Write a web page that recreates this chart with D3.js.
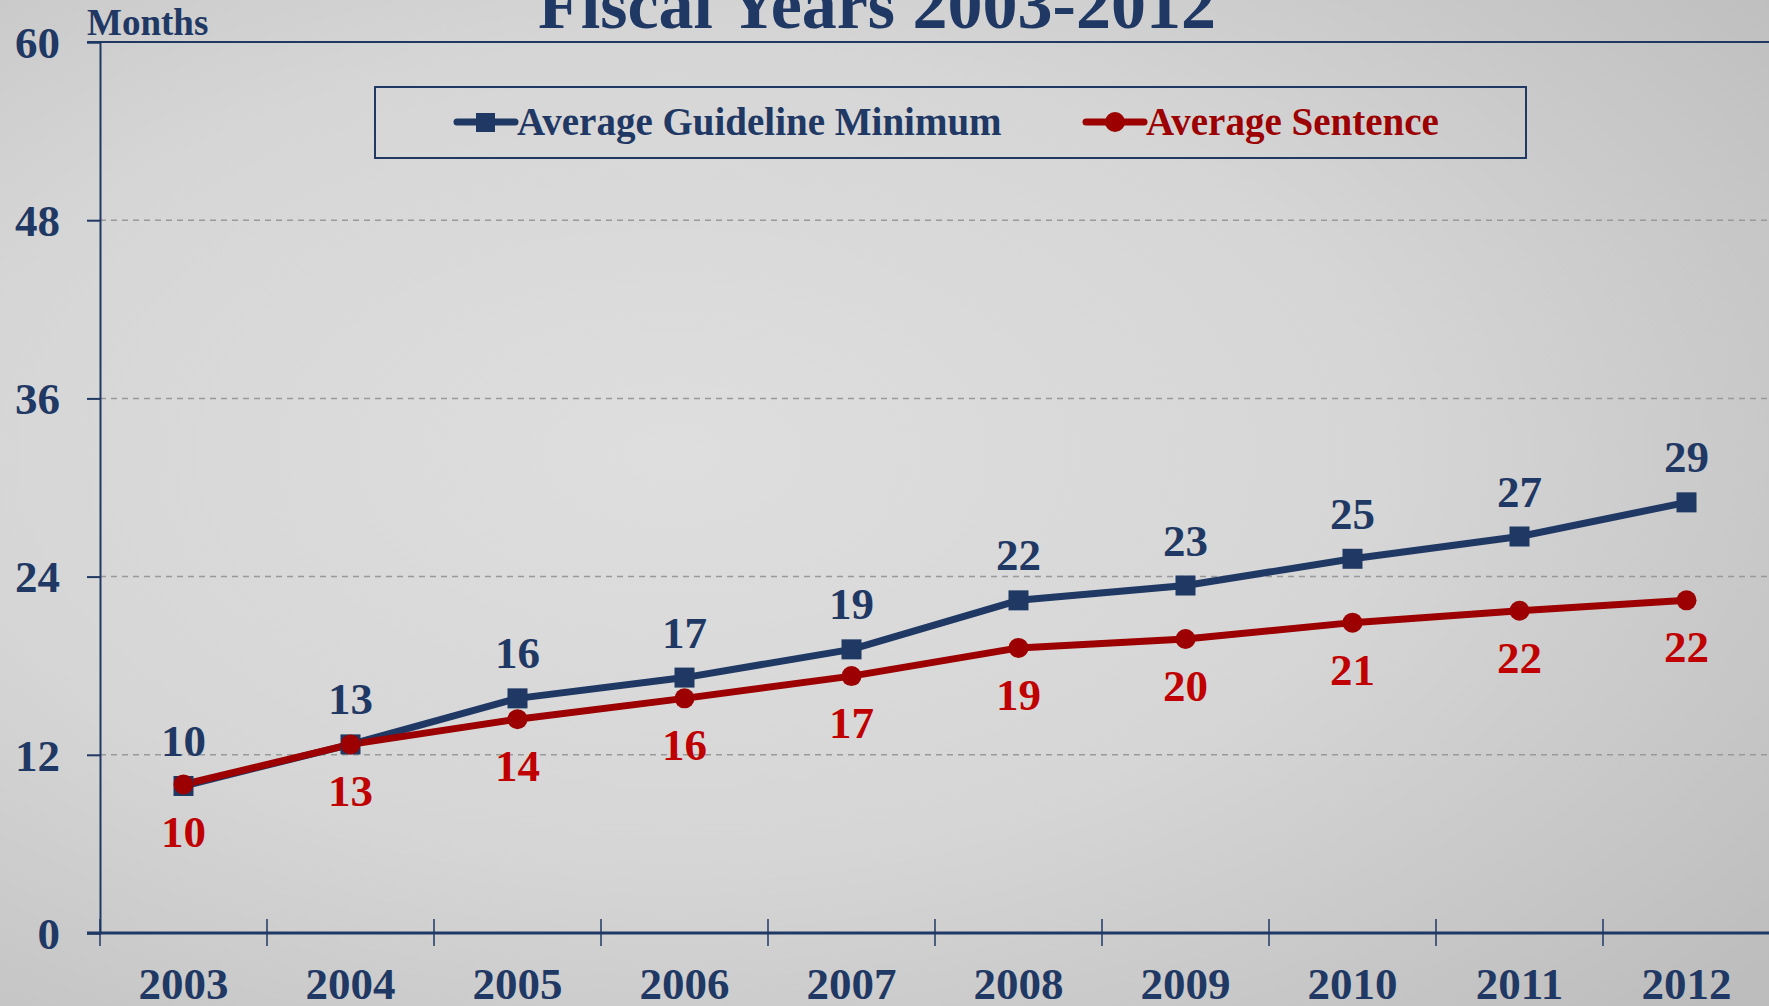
<!DOCTYPE html>
<html><head><meta charset="utf-8">
<script src="https://cdn.jsdelivr.net/npm/d3@7/dist/d3.min.js"></script>
<style>html,body{margin:0;padding:0;overflow:hidden;background:#d6d6d6}</style>
</head><body>
<script>
const years = ["2003","2004","2005","2006","2007","2008","2009","2010","2011","2012"];
const guidelineMin = [9.9,12.7,15.8,17.2,19.1,22.4,23.4,25.2,26.7,29.0];
const avgSentence = [10.0,12.7,14.4,15.8,17.3,19.2,19.8,20.9,21.7,22.4];
const yTicks = [0,12,24,36,48,60];
const seriesNames = ["Average Guideline Minimum","Average Sentence"];
const titleText = "Fiscal Years 2003-2012";
const yTitle = "Months";

const W = 1769, H = 1006;
const NAVY = "#1f3864", RED = "#9c0000", RED_LBL = "#c00000";
const FONT = "'Liberation Serif', 'DejaVu Serif', serif";

const svg = d3.select("body").append("svg").attr("width", W).attr("height", H);
const defs = svg.append("defs");
const g = defs.append("radialGradient").attr("id","bg").attr("cx","38%").attr("cy","45%").attr("r","80%");
g.append("stop").attr("offset","0%").attr("stop-color","#dedede");
g.append("stop").attr("offset","50%").attr("stop-color","#d6d6d6");
g.append("stop").attr("offset","100%").attr("stop-color","#bdbdbd");
svg.append("rect").attr("width",W).attr("height",H).attr("fill","url(#bg)");

const x = d3.scaleBand().domain(years).range([100, 1770]).padding(0);
const y = d3.scaleLinear().domain([0,60]).range([933, 42]);
const cx = d => x(d) + x.bandwidth()/2;

// gridlines
svg.append("g").selectAll("line").data(yTicks.filter(t => t>0 && t<60)).join("line")
  .attr("x1",100).attr("x2",W).attr("y1",d=>y(d)).attr("y2",d=>y(d))
  .attr("stroke","#999").attr("stroke-width",1.5).attr("stroke-dasharray","6,5");

// top border line
svg.append("line").attr("x1",87).attr("x2",W).attr("y1",y(60)).attr("y2",y(60))
  .attr("stroke",NAVY).attr("stroke-width",2);

// y axis
const yAxis = d3.axisLeft(y).tickValues(yTicks).tickSize(13).tickPadding(27).tickFormat(d3.format("d"));
const ya = svg.append("g").attr("transform","translate(100,0)").call(yAxis);
ya.select(".domain").attr("stroke",NAVY).attr("stroke-width",2);
ya.selectAll(".tick line").attr("stroke",NAVY).attr("stroke-width",2);
ya.selectAll(".tick text").attr("fill",NAVY).attr("font-family",FONT).attr("font-weight","bold")
  .attr("font-size",45).attr("dy","0.34em");

// x axis
const xa = svg.append("g").attr("transform","translate(0,933)");
xa.append("line").attr("x1",87).attr("x2",W).attr("y1",0).attr("y2",0).attr("stroke",NAVY).attr("stroke-width",3);
xa.selectAll("line.tk").data(years).join("line").attr("class","tk")
  .attr("x1",d=>x(d)).attr("x2",d=>x(d)).attr("y1",-14).attr("y2",13)
  .attr("stroke",NAVY).attr("stroke-width",1.5);
xa.selectAll("text").data(years).join("text")
  .attr("x",cx).attr("y",66).attr("text-anchor","middle")
  .attr("fill",NAVY).attr("font-family",FONT).attr("font-weight","bold").attr("font-size",45)
  .text(d=>d);

// y title
svg.append("text").attr("x",87).attr("y",35).attr("fill",NAVY).attr("font-family",FONT)
  .attr("font-weight","bold").attr("font-size",37).text(yTitle);

// chart title
svg.append("text").attr("x",877).attr("y",28).attr("text-anchor","middle").attr("fill",NAVY)
  .attr("font-family",FONT).attr("font-weight","bold").attr("font-size",70).text(titleText);

// lines
const line = d3.line().x((d,i)=>cx(years[i])).y(d=>y(d));
svg.append("path").datum(guidelineMin).attr("d",line).attr("fill","none")
  .attr("stroke",NAVY).attr("stroke-width",7).attr("stroke-linejoin","round");
svg.append("path").datum(avgSentence).attr("d",line).attr("fill","none")
  .attr("stroke",RED).attr("stroke-width",7).attr("stroke-linejoin","round");

// markers
svg.append("g").selectAll("rect").data(guidelineMin).join("rect")
  .attr("x",(d,i)=>cx(years[i])-10).attr("y",d=>y(d)-10).attr("width",20).attr("height",20).attr("fill",NAVY);
svg.append("g").selectAll("circle").data(avgSentence).join("circle")
  .attr("cx",(d,i)=>cx(years[i])).attr("cy",d=>y(d)).attr("r",10).attr("fill",RED);

// data labels
svg.append("g").selectAll("text").data(guidelineMin).join("text")
  .attr("x",(d,i)=>cx(years[i])).attr("y",d=>y(d)-30).attr("text-anchor","middle")
  .attr("fill",NAVY).attr("font-family",FONT).attr("font-weight","bold").attr("font-size",45)
  .text(d=>Math.round(d));
svg.append("g").selectAll("text").data(avgSentence).join("text")
  .attr("x",(d,i)=>cx(years[i])).attr("y",d=>y(d)+62).attr("text-anchor","middle")
  .attr("fill",RED_LBL).attr("font-family",FONT).attr("font-weight","bold").attr("font-size",45)
  .text(d=>Math.round(d));

// legend
const lg = svg.append("g");
lg.append("rect").attr("x",375).attr("y",87).attr("width",1151).attr("height",71)
  .attr("fill","none").attr("stroke",NAVY).attr("stroke-width",2);
const items = [
  {name:seriesNames[0], color:NAVY, text:NAVY, x0:457, shape:"square"},
  {name:seriesNames[1], color:RED, text:RED, x0:1086, shape:"circle"}
];
items.forEach(it => {
  lg.append("line").attr("x1",it.x0).attr("x2",it.x0+58).attr("y1",122).attr("y2",122)
    .attr("stroke",it.color).attr("stroke-width",7).attr("stroke-linecap","round");
  if (it.shape==="square") lg.append("rect").attr("x",it.x0+19).attr("y",113).attr("width",19).attr("height",19).attr("fill",it.color);
  else lg.append("circle").attr("cx",it.x0+29).attr("cy",122).attr("r",10).attr("fill",it.color);
  lg.append("text").attr("x",it.x0+60).attr("y",135).attr("fill",it.text).attr("font-family",FONT)
    .attr("font-weight","bold").attr("font-size",39).text(it.name);
});
</script>
</body></html>
